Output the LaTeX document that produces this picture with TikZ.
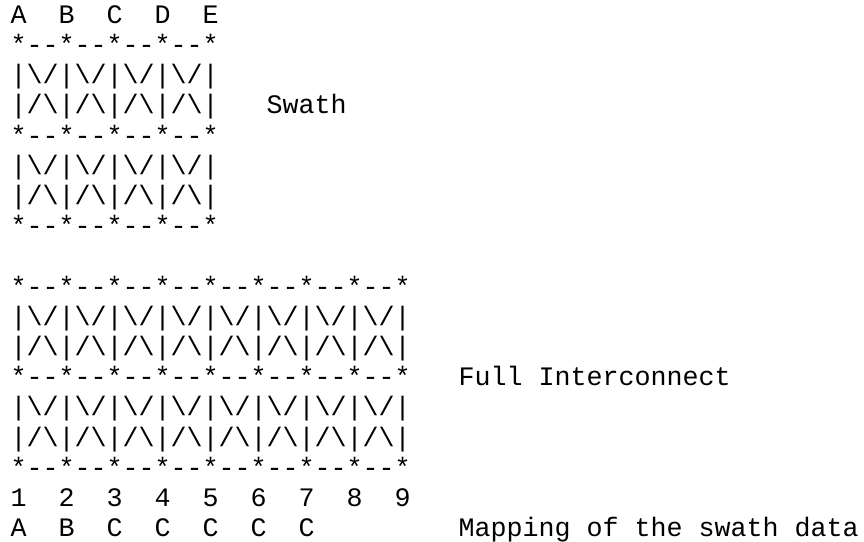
\documentclass[tikz,border=0pt]{standalone}
\usepackage{fontspec}
\setmonofont{Liberation Mono}
\newcommand\bs{\textbackslash}
\newcommand\sa{*--*--*--*--*}
\newcommand\xa{|\bs/|\bs/|\bs/|\bs/|}
\newcommand\xb{|/\bs|/\bs|/\bs|/\bs|}
\newcommand\sfull{*--*--*--*--*--*--*--*--*}
\newcommand\xfa{|\bs/|\bs/|\bs/|\bs/|\bs/|\bs/|\bs/|\bs/|}
\newcommand\xfb{|/\bs|/\bs|/\bs|/\bs|/\bs|/\bs|/\bs|/\bs|}
\tikzset{
  asc/.style={anchor=base west, inner sep=0pt, outer sep=0pt,
    font=\ttfamily\fontsize{26.67pt}{30pt}\selectfont, text=black}
}
\newcommand\txtat[4]{\node[asc] (#1) at ({10.5pt+16pt*#2},{-23.3pt-30.2pt*#3}) {#4};}
\begin{document}
\begin{tikzpicture}
\useasboundingbox[fill=white] (0pt,0pt) rectangle (864pt,-541pt);
\txtat{l0}{0}{0}{A~~B~~C~~D~~E}
\txtat{l1}{0}{1}{\sa}
\txtat{l2}{0}{2}{\xa}
\txtat{l3}{0}{3}{\xb}
\txtat{swath}{16}{3}{Swath}
\txtat{l4}{0}{4}{\sa}
\txtat{l5}{0}{5}{\xa}
\txtat{l6}{0}{6}{\xb}
\txtat{l7}{0}{7}{\sa}
\txtat{l9}{0}{9}{\sfull}
\txtat{l10}{0}{10}{\xfa}
\txtat{l11}{0}{11}{\xfb}
\txtat{l12}{0}{12}{\sfull}
\txtat{full}{28}{12}{Full Interconnect}
\txtat{l13}{0}{13}{\xfa}
\txtat{l14}{0}{14}{\xfb}
\txtat{l15}{0}{15}{\sfull}
\txtat{l16}{0}{16}{1~~2~~3~~4~~5~~6~~7~~8~~9}
\txtat{l17}{0}{17}{A~~B~~C~~C~~C~~C~~C}
\txtat{mapping}{28}{17}{Mapping of the swath data}
\end{tikzpicture}
\end{document}
